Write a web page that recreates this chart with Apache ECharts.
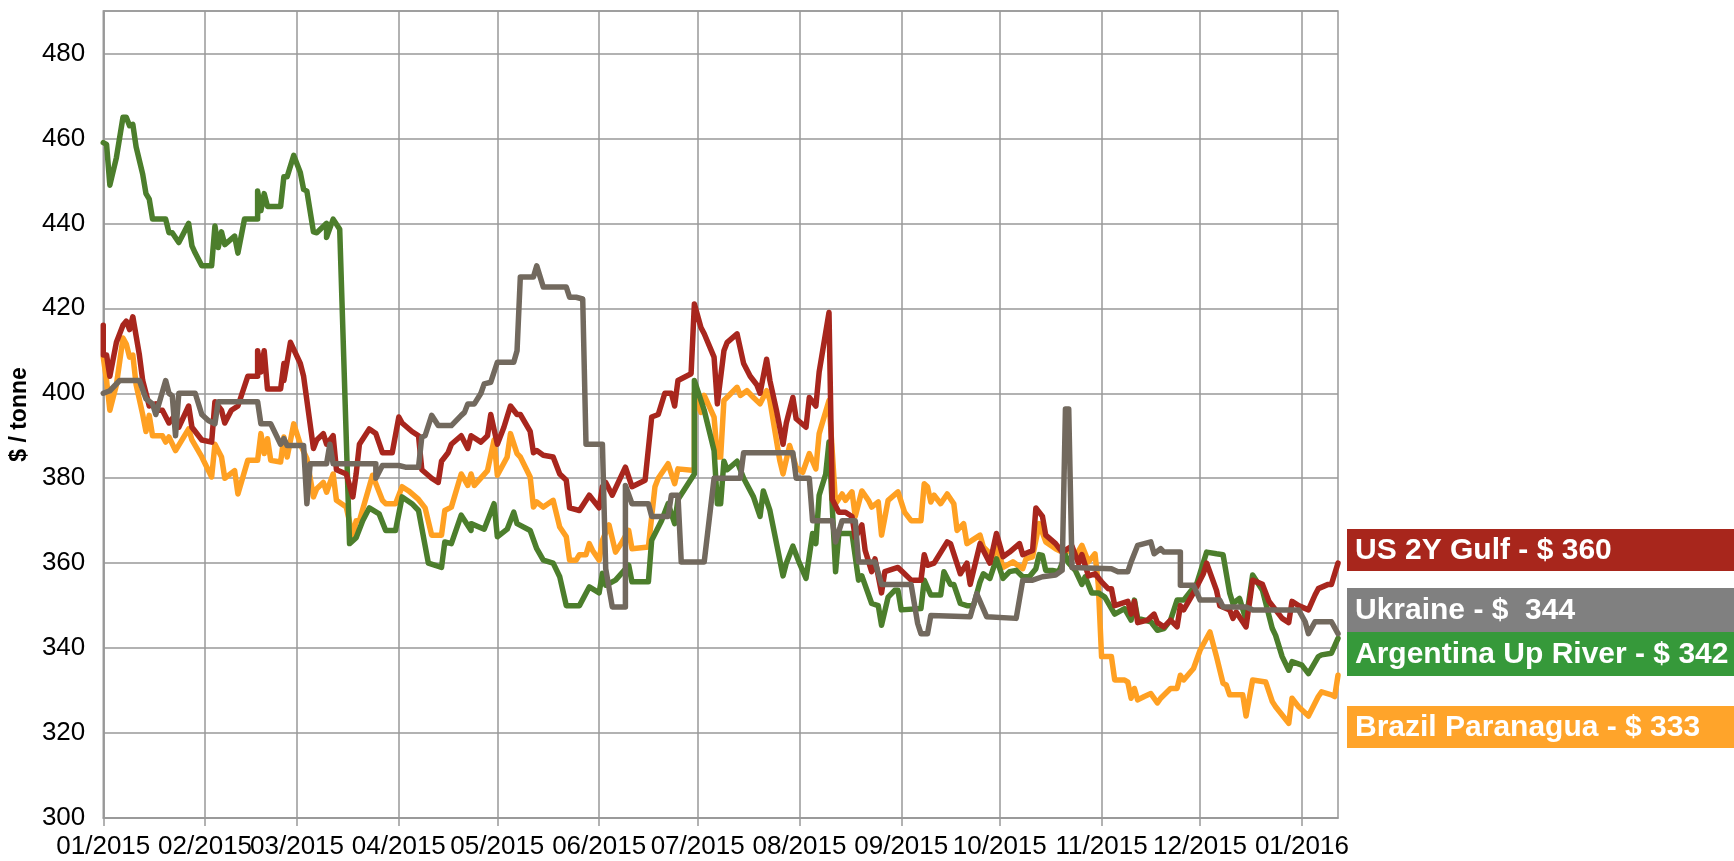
<!DOCTYPE html>
<html>
<head>
<meta charset="utf-8">
<title>Corn export prices</title>
<script src="https://cdn.jsdelivr.net/npm/echarts@6/dist/echarts.min.js"></script>
<style>
html,body{margin:0;padding:0;background:#fff;}
#chart{width:1734px;height:861px;}
</style>
</head>
<body>
<div id="chart"></div>
<script>
// Dates are given as days elapsed since 2015-01-01.
const startDate = '2015-01-01';
const endDay = 376;
const monthTicks = ['2015-01-01','2015-02-01','2015-03-01','2015-04-01','2015-05-01','2015-06-01',
  '2015-07-01','2015-08-01','2015-09-01','2015-10-01','2015-11-01','2015-12-01','2016-01-01'];
const yTicks = {min: 300, max: 490, step: 20};

const seriesNames = ['Brazil Paranagua', 'Argentina Up River', 'US 2Y Gulf', 'Ukraine'];
const boxLabels = ['US 2Y Gulf - $ 360', 'Ukraine - $  344', 'Argentina Up River - $ 342', 'Brazil Paranagua - $ 333'];

const usGulf = [[0,416],[0,409],[1,409],[2,404],[4,412],[6,416],[7,417],[8,415],[9,418],[11,409],[12,403],[14,397],[16,397.5],[16,396],[18,396],[20,393],[21,394],[22,395],[23,392],[26,397],[27,392],[30,389],[33,388.5],[34,398],[36,396],[37,393],[39,396],[41,397],[44,404],[47,404],[47,410],[48,405],[49,410],[50,401],[54,401],[55,407],[55,403],[57,412],[60,407],[61,404],[64,387],[65,389],[67,390.5],[68,388],[70,390],[71,382],[74,381],[76,375.6],[77,381],[78,388],[81,391.6],[83,390.5],[85,386],[88,386],[90,394.4],[91,393],[94,391],[96,390],[97,382],[100,380],[102,379],[103,384],[105,386],[106,388],[109,390],[111,387],[112,390],[115,388.5],[117,390],[118,395],[120,388],[122,392],[124,397],[126,395],[127,395],[130,391],[131,386],[132,386.5],[134,385.4],[137,385],[139,381],[141,379.5],[142,373],[145,372.4],[146,373.6],[148,376],[149,375],[151,373],[152,378],[153,379],[155,376],[159,382.6],[161,378],[165,379.5],[167,394.4],[169,395],[171,400],[173,400],[174,397],[175,403],[179,404.6],[180,421],[182,415.5],[183,414],[186,408.5],[187,397.5],[189,410],[190,412],[193,414],[195,407],[197,404],[199,402],[200,400],[202,408],[203,403],[205,396],[207,388],[208,393],[210,399],[211,394],[214,392],[215,399],[217,397],[218,405],[221,419],[222,375],[224,372],[226,372],[228,371],[229,366],[231,369],[232,363],[234,358],[235,361],[237,353],[238,358],[242,359],[244,357.5],[246,356],[249,356],[250,362],[251,359.5],[253,360],[257,365],[258,364.6],[261,357.5],[263,360],[264,355],[267,364.6],[268,363],[270,360],[272,367],[274,361.5],[276,362.6],[279,364.6],[280,362],[283,363],[284,373],[286,371],[287,366.6],[290,364.6],[292,362.6],[295,364],[297,360],[298,362],[300,357],[302,357.5],[304,355.6],[306,354],[307,354],[308,350],[312,351],[313,348],[314,351],[315,346],[318,346.6],[320,348],[321,346],[323,345],[325,346.6],[327,345],[328,350],[329,349],[332,353],[335,357.5],[336,360],[339,353.6],[340,350],[343,349],[344,347],[345,348.5],[348,345],[350,356],[353,355],[355,351],[357,349],[359,347],[361,346],[362,351],[364,350],[367,349],[369,352.5],[370,354],[373,355],[374,355],[376,360]];

const argentina = [[0,459],[1,458.6],[2,449],[4,455.5],[6,465],[7,465],[8,463],[9,463.3],[10,458],[12,451.6],[13,447],[14,445.7],[15,441],[19,441],[20,437.8],[21,437.8],[23,435.5],[26,440],[27,434.7],[28,433],[30,430],[33,430],[34,439.4],[35,434.3],[36,438],[37,435],[40,437],[41,433],[43,441],[47,441],[47,447.6],[48,443],[49,447],[50,444],[54,444],[55,451],[56,451],[58,456],[60,452],[61,448],[62,447.6],[64,438],[65,437.8],[68,440],[68,436.7],[70,441],[72,438.6],[75,364.6],[77,366],[79,370],[81,373],[84,371.6],[86,367.7],[89,367.7],[91,375.6],[94,374],[96,372.4],[99,360],[103,359],[104,365],[106,364.6],[109,371.3],[112,367.7],[112,369.3],[116,368],[119,374],[120,366.2],[123,368],[125,372],[126,369.3],[130,367.7],[132,363.4],[134,360.7],[137,360],[139,356.8],[141,350],[145,350],[148,354.4],[151,353],[152,357.6],[153,354.8],[156,356],[160,359.5],[161,355.6],[166,355.6],[167,365.4],[170,370],[172,374],[174,369.3],[175,375],[180,381],[180,403],[183,396],[186,386.5],[187,374],[188,374],[189,384],[190,382],[193,384],[195,380],[198,375.6],[200,371],[201,377],[203,372.4],[207,357],[208,360],[210,364],[212,360],[214,356.4],[216,367],[217,364.6],[218,376],[220,381],[221,388.5],[223,358],[224,367],[228,367],[230,356],[231,357],[234,350.5],[236,350],[237,345.4],[239,352],[241,353.6],[242,353.6],[243,349],[249,349.3],[250,356],[252,352.5],[255,352.5],[256,358],[258,355],[259,355],[261,350.5],[263,350],[265,350],[267,355.6],[268,357.5],[270,356.4],[272,361],[274,356.4],[276,358],[278,358.3],[280,356.8],[282,356.8],[284,358.7],[285,362],[286,361.8],[287,358.3],[289,358.3],[291,358],[293,362],[294,360],[296,358.3],[298,355],[299,356.8],[301,353],[303,353],[305,352],[308,348],[311,349.3],[313,346.6],[314,351.3],[315,347],[319,346.2],[321,344.2],[323,344.6],[325,346.6],[327,351.3],[329,351.3],[333,355.2],[336,362.6],[339,362.2],[341,362],[343,353],[344,350.5],[346,351.7],[348,346.6],[350,357.2],[353,353.6],[356,344.6],[357,343],[359,338],[361,334.8],[362,336.8],[365,336],[367,334],[370,338],[371,338.4],[374,338.8],[376,342.3]];

const ukraine = [[0,400],[2,400.6],[5,403],[11,403],[13,398.7],[15,397.5],[16,395],[19,403],[20,400],[21,399.4],[22,390],[23,400],[28,400],[30,395],[32,393.6],[34,392.8],[35,398],[47,398],[48,392.8],[51,392.8],[54,388],[55,389.3],[56,387.7],[61,387.7],[62,374],[63,383.4],[68,383.4],[69,388],[70,383.4],[83,383.4],[83,380],[85,383],[90,383],[92,382.6],[96,382.6],[97,389.7],[98,390],[100,394.8],[102,392.4],[106,392.4],[109,394.8],[110,395.5],[111,397.5],[113,397.5],[115,400],[116,402.2],[118,402.6],[120,407.3],[125,407.3],[126,410],[127,427.4],[131,427.4],[132,430],[134,425],[141,425],[142,422.6],[144,422.6],[146,422.2],[147,388],[152,388],[153,358.7],[155,349.7],[159,349.7],[159,378.3],[161,374],[166,374],[167,371],[172,371],[173,376],[175,376],[176,360.3],[183,360.3],[186,380],[194,380],[195,386],[210,386],[211,380],[215,380],[216,370],[222,370],[223,365],[225,370],[229,370],[230,360.3],[235,360.3],[237,355],[246,355],[248,345.8],[249,343.4],[251,343.4],[252,347.7],[264,347.4],[266,352.8],[269,347.4],[278,347],[280,356],[283,356],[286,356.8],[290,357.2],[292,358.3],[293,396.3],[294,396.3],[295,359],[307,358.7],[309,358],[312,358],[313,360.3],[315,364.2],[317,364.6],[319,365],[320,362.2],[322,363.4],[323,362.6],[328,362.6],[328,354.8],[332,354.8],[334,351.3],[340,351.3],[341,349.7],[348,349.7],[350,349],[364,349],[366,346.2],[367,343.4],[369,346.2],[374,346.2],[376,343.4]];

const brazil = [[0,408.5],[1,403],[2,396],[4,402],[6,413],[7,411.6],[8,408.5],[9,409],[10,402],[12,395],[13,391],[14,394.8],[15,390],[18,390],[19,388.5],[20,389.7],[22,386.5],[26,391.6],[27,389],[30,385],[33,380.3],[34,388],[36,385],[37,380],[40,381.8],[41,376.3],[44,384.2],[47,384.2],[48,390.5],[49,385.8],[50,389.3],[51,384.2],[54,383.8],[55,389.7],[56,385],[58,392.8],[60,388],[62,384.6],[64,375.6],[65,377.5],[67,379],[68,376.7],[70,381],[71,374.8],[74,373.2],[76,366.2],[77,370],[78,370],[82,380.7],[85,374.8],[86,374],[89,374],[91,378],[93,377],[96,375],[98,373],[100,366.6],[103,366.6],[104,372.4],[106,373.2],[109,381],[111,378.3],[112,381],[113,378.3],[117,381.8],[119,389],[120,380.7],[123,385],[124,390.5],[126,385.8],[127,385],[130,380.3],[131,373.2],[132,374.4],[134,373.2],[137,374.8],[139,368.5],[141,366.2],[142,360.7],[144,360.7],[145,362],[147,362],[148,364.6],[149,363],[151,360.7],[152,365.4],[154,369],[156,362.6],[158,365],[160,367.7],[161,363.4],[166,363.8],[168,378],[169,380],[172,383.4],[174,378.7],[175,382.2],[180,381.8],[180,400],[182,395.5],[183,399.5],[186,394.4],[187,385],[188,385],[189,398.3],[193,401.4],[194,399.5],[196,400.6],[198,399],[200,397.5],[202,400.6],[203,398.3],[206,384.2],[207,381],[209,387.7],[211,382.6],[213,381.4],[215,385.8],[217,382.2],[218,390.5],[221,398.3],[223,374],[225,376.3],[226,374.8],[228,376.8],[229,371],[231,377],[233,374.8],[234,373.2],[236,374.4],[237,366.6],[239,374.8],[242,376.8],[244,372],[246,370],[249,370],[250,378.7],[251,378],[252,374.4],[253,376],[255,374],[257,376.3],[259,374],[260,367.7],[262,369.3],[263,364.6],[267,366.6],[268,363.8],[271,361.5],[272,364.2],[274,359],[277,360.3],[280,358.7],[281,361],[283,361.5],[285,369.3],[287,365],[290,363.4],[292,362.6],[294,363],[296,361.5],[298,364.2],[300,360.3],[302,362.2],[303,355],[304,338],[307,338],[308,332.5],[311,332.5],[312,332],[313,328.2],[314,330.5],[315,327.8],[317,328.6],[319,329.3],[321,327.1],[322,328.2],[325,330.5],[327,330.5],[328,333.6],[329,332.5],[332,335.2],[334,339.5],[337,343.8],[339,338],[341,331.7],[342,331.3],[343,329],[347,329],[348,324],[350,332.5],[354,332],[356,327.4],[357,326.2],[361,322.3],[362,328.2],[364,326.2],[367,324],[370,328.6],[371,329.7],[374,329],[375,328.6],[376,333.6]];

const lineColors = {brazil:'#FFA022', argentina:'#4C7E2C', usGulf:'#A8261D', ukraine:'#72695E'};
const boxColors = ['#A8261C', '#808080', '#36993A', '#FFA42A'];
const boxTops = [529, 588, 632, 706];
const boxHeights = [42, 44, 44, 42];

const DAY = 86400000;
const t0 = Date.parse(startDate + 'T00:00:00Z');
const dayOf = s => Math.round((Date.parse(s + 'T00:00:00Z') - t0) / DAY);
const tickDays = monthTicks.map(dayOf);
const pad = n => (n < 10 ? '0' : '') + n;
const fmt = v => { const d = new Date(t0 + v * DAY); return pad(d.getUTCMonth() + 1) + '/' + d.getUTCFullYear(); };

const FONT = '"Liberation Sans", Arial, sans-serif';
const gridColor = '#999999';

const chart = echarts.init(document.getElementById('chart'), null, {renderer: 'canvas'});

const mkLine = (name, data, color) => ({
  name, type: 'line', data: data, showSymbol: false, symbol: 'none',
  lineStyle: {color, width: 5.5, join: 'round', cap: 'round'}, itemStyle: {color},
  animation: false, emphasis: {disabled: true}
});

const graphics = [];
boxLabels.forEach((t, i) => {
  graphics.push({type: 'rect', shape: {x: 1347, y: boxTops[i], width: 387, height: boxHeights[i]},
    style: {fill: boxColors[i]}, silent: true});
  graphics.push({type: 'text', x: 1355, y: boxTops[i] + boxHeights[i] / 2 + 1,
    style: {text: t, fill: '#fff', fontSize: 30, fontWeight: 'bold', fontFamily: FONT,
      verticalAlign: 'middle', align: 'left'}, silent: true});
});

chart.setOption({
  animation: false,
  backgroundColor: '#fff',
  grid: {left: 103, right: 396, top: 11, bottom: 43, show: true, borderColor: gridColor, borderWidth: 1.5},
  xAxis: {
    type: 'value', min: 0, max: endDay,
    axisLine: {show: true, lineStyle: {color: gridColor, width: 1.5}},
    axisTick: {show: true, length: 8, lineStyle: {color: gridColor, width: 1.5}, customValues: tickDays},
    axisLabel: {customValues: tickDays, formatter: fmt, fontSize: 26, color: '#000', fontFamily: FONT, margin: 16,
      hideOverlap: false, showMinLabel: true, showMaxLabel: true},
    splitLine: {show: true, lineStyle: {color: gridColor, width: 1.5}}
  },
  yAxis: {
    type: 'value', min: yTicks.min, max: yTicks.max, interval: yTicks.step,
    name: '$ / tonne', nameLocation: 'middle', nameRotate: 90, nameGap: 71,
    nameTextStyle: {fontSize: 23, fontWeight: 'bold', color: '#000', fontFamily: FONT},
    axisLine: {show: true, lineStyle: {color: gridColor, width: 1.5}},
    axisTick: {show: false},
    axisLabel: {fontSize: 26, color: '#000', fontFamily: FONT, margin: 18, showMaxLabel: false},
    splitLine: {show: true, lineStyle: {color: gridColor, width: 1.5}}
  },
  series: [
    mkLine(seriesNames[0], brazil, lineColors.brazil),
    mkLine(seriesNames[1], argentina, lineColors.argentina),
    mkLine(seriesNames[2], usGulf, lineColors.usGulf),
    mkLine(seriesNames[3], ukraine, lineColors.ukraine)
  ],
  graphic: graphics
});
</script>
</body>
</html>
